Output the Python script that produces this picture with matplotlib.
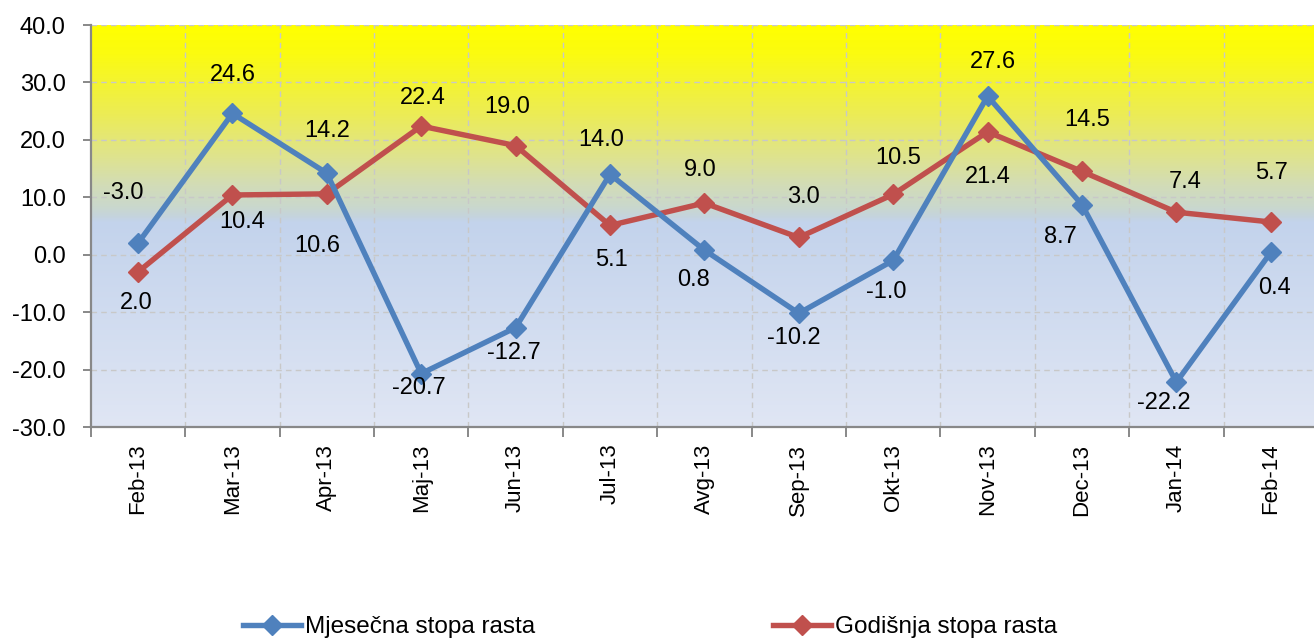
import numpy as np
import matplotlib
matplotlib.use("Agg")
import matplotlib.pyplot as plt
from matplotlib.colors import LinearSegmentedColormap
from matplotlib.lines import Line2D

# ---- data ----
months = ["Feb-13", "Mar-13", "Apr-13", "Maj-13", "Jun-13", "Jul-13", "Avg-13",
          "Sep-13", "Okt-13", "Nov-13", "Dec-13", "Jan-14", "Feb-14"]
monthly = [2.0, 24.6, 14.2, -20.7, -12.7, 14.0, 0.8, -10.2, -1.0, 27.6, 8.7, -22.2, 0.4]
annual = [-3.0, 10.4, 10.6, 22.4, 19.0, 5.1, 9.0, 3.0, 10.5, 21.4, 14.5, 7.4, 5.7]
yticks = [-30, -20, -10, 0, 10, 20, 30, 40]

series_names = ["Mjesečna stopa rasta", "Godišnja stopa rasta"]

# label offsets (pixels, dx, dy-up) -- style only
blue_off = [(-2, -60), (0, 38), (0, 42), (-2, -14), (-2, -25), (-9, 34), (-11, -30),
            (-5, -25), (-7, -32), (5, 34), (-22, -32), (-13, -21), (4, -36)]
red_off = [(-15, 79), (10, -27), (-10, -52), (2, 28), (-8, 39), (1, -35), (-4, 33),
           (5, 40), (5, 36), (0, -45), (5, 51), (9, 30), (1, 49)]

BLUE = "#4F81BD"
RED = "#C0504D"
FS = 17

plt.rcParams['font.family'] = ['Liberation Sans', 'DejaVu Sans']

fig = plt.figure(figsize=(13.14, 6.40), dpi=100)
ax = fig.add_axes([90.8 / 1314, 1 - 427 / 640, (1318 - 90.8) / 1314, (427 - 25) / 640])

x = np.arange(len(months))
ax.set_xlim(-0.5, len(months) - 0.5)
ax.set_ylim(-30, 40)

# background gradient
stops = [(0.0, "#FFFF00"), (0.07, "#FBFB10"), (0.22, "#ECEC55"), (0.33, "#DEE390"),
         (0.40, "#D2DCB8"), (0.45, "#CAD8CC"), (0.475, "#C5D4DC"), (0.49, "#C3D3EC"),
         (1.0, "#E0E6F4")]
cmap = LinearSegmentedColormap.from_list("bg", stops)
grad = np.linspace(0, 1, 512).reshape(-1, 1)
ax.imshow(grad, cmap=cmap, aspect="auto", extent=(-0.5, len(months) - 0.5, -30, 40),
          origin="upper", zorder=0, interpolation="bilinear")

# grid
for yv in yticks:
    ax.axhline(yv, color="#C8C8C8", lw=1.0, ls=(0, (4, 3)), zorder=1)
for xv in np.arange(0.5, len(months) - 0.5, 1):
    ax.axvline(xv, color="#C8C8C8", lw=1.0, ls=(0, (4, 3)), zorder=1)

ax.plot(x, annual, color=RED, lw=3.9, marker="D", ms=10.5, mec=RED, mfc=RED, zorder=3)
ax.plot(x, monthly, color=BLUE, lw=3.9, marker="D", ms=10.5, mec=BLUE, mfc=BLUE, zorder=4)

for xi, v, (dx, dy) in zip(x, monthly, blue_off):
    ax.annotate(f"{v:.1f}", (xi, v), xytext=(dx, dy), textcoords="offset pixels",
                ha="center", va="center", fontsize=FS, color="black", zorder=5)
for xi, v, (dx, dy) in zip(x, annual, red_off):
    ax.annotate(f"{v:.1f}", (xi, v), xytext=(dx, dy), textcoords="offset pixels",
                ha="center", va="center", fontsize=FS, color="black", zorder=5)

# axes styling
for s in ["top", "right"]:
    ax.spines[s].set_visible(False)
for s in ["left", "bottom"]:
    ax.spines[s].set_color("#888888")
    ax.spines[s].set_linewidth(1.6)
    ax.spines[s].set_zorder(6)

ax.set_yticks(yticks)
ax.set_yticklabels([f"{v:.1f}" for v in yticks], fontsize=FS)
ax.tick_params(axis="y", direction="out", length=6, width=1.4, color="#888888", pad=12)

ax.set_xticks(x)
ax.set_xticklabels(months, rotation=90, fontsize=16)
ax.set_xticks(np.arange(-0.5, len(months), 1), minor=True)
ax.tick_params(axis="x", which="major", length=0, pad=12)
ax.tick_params(axis="x", which="minor", direction="out", length=7, width=1.4, color="#888888")

handles = [Line2D([], [], color=BLUE, lw=3.9, marker="D", ms=10.5),
           Line2D([], [], color=RED, lw=3.9, marker="D", ms=10.5)]
fig.legend(handles, series_names, loc="center", bbox_to_anchor=(650 / 1314, 1 - 627 / 640),
           ncol=2, frameon=False, handlelength=2.4, handletextpad=0.15, columnspacing=9.8,
           prop={"family": ["Liberation Sans Narrow", "Liberation Sans"], "size": 17.5})

fig.savefig("out.png", dpi=100)
